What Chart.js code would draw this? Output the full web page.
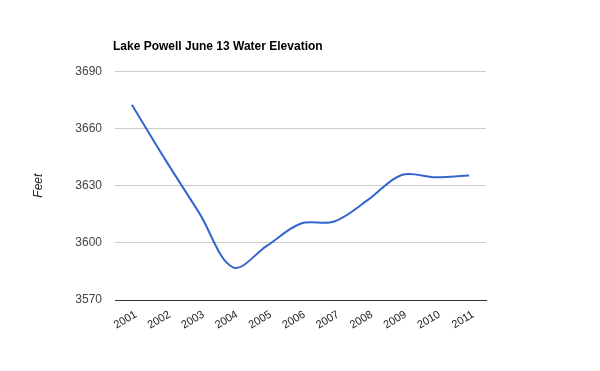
<!DOCTYPE html>
<html>
<head>
<meta charset="utf-8">
<script src="https://cdn.jsdelivr.net/npm/chart.js@4/dist/chart.umd.min.js"></script>
<style>
html,body{margin:0;padding:0;background:#fff;}
#wrap{width:600px;height:371px;position:relative;}
</style>
</head>
<body>
<div id="wrap"><canvas id="c" width="600" height="371"></canvas></div>
<script>
const chartTitle = "Lake Powell June 13 Water Elevation";
const yAxisTitle = "Feet";
const years = ["2001","2002","2003","2004","2005","2006","2007","2008","2009","2010","2011"];
const elevation = [3672.5, 3643.4, 3615.6, 3587.1, 3598.4, 3610.0, 3611.2, 3622.5, 3635.6, 3634.4, 3635.3];
const yTicks = [3570, 3600, 3630, 3660, 3690];

const AREA = {left:115, right:486, top:71.3, bottom:300};

const textPlugin = {
  id: 'textPlugin',
  afterDraw(chart) {
    const ctx = chart.ctx;
    ctx.save();
    ctx.fillStyle = '#000';
    ctx.font = 'bold 12px Arial, "Liberation Sans", sans-serif';
    ctx.textAlign = 'left';
    ctx.textBaseline = 'alphabetic';
    ctx.fillText(chartTitle, chart.chartArea.left - 2, 49.5);
    ctx.font = 'italic 12px Arial, "Liberation Sans", sans-serif';
    ctx.fillStyle = '#222';
    ctx.translate(41.5, (chart.chartArea.top + chart.chartArea.bottom) / 2);
    ctx.rotate(-Math.PI / 2);
    ctx.textAlign = 'center';
    ctx.fillText(yAxisTitle, 0, 0);
    ctx.restore();
  }
};

new Chart(document.getElementById('c'), {
  type: 'line',
  data: {
    labels: years,
    datasets: [{
      data: elevation,
      borderColor: '#3366cc',
      borderWidth: 2,
      pointRadius: 0,
      pointHoverRadius: 0,
      tension: 0.35,
      fill: false
    }]
  },
  options: {
    responsive: false,
    animation: false,
    events: [],
    layout: { padding: { top: AREA.top, right: 600 - AREA.right, left: 0, bottom: 0 } },
    plugins: { legend: { display: false }, tooltip: { enabled: false }, title: { display: false } },
    scales: {
      x: {
        offset: true,
        afterFit(scale) { scale.height = 371 - AREA.bottom; },
        grid: { display: false, drawTicks: false },
        border: { display: true, color: '#333', width: 1 },
        ticks: {
          color: '#222',
          font: { family: 'Arial, "Liberation Sans", sans-serif', size: 11 },
          maxRotation: 31, minRotation: 31,
          padding: 8,
          labelOffset: 4,
          autoSkip: false
        }
      },
      y: {
        min: yTicks[0],
        max: yTicks[yTicks.length - 1],
        afterFit(scale) { scale.width = AREA.left; },
        afterBuildTicks(scale) { scale.ticks = yTicks.map(v => ({ value: v })); },
        grid: { color: '#cccccc', drawTicks: false, lineWidth: 1 },
        border: { display: false },
        ticks: {
          color: '#444',
          font: { family: 'Arial, "Liberation Sans", sans-serif', size: 12 },
          padding: 13,
          callback: (v) => String(v)
        }
      }
    }
  },
  plugins: [textPlugin]
});
</script>
</body>
</html>
